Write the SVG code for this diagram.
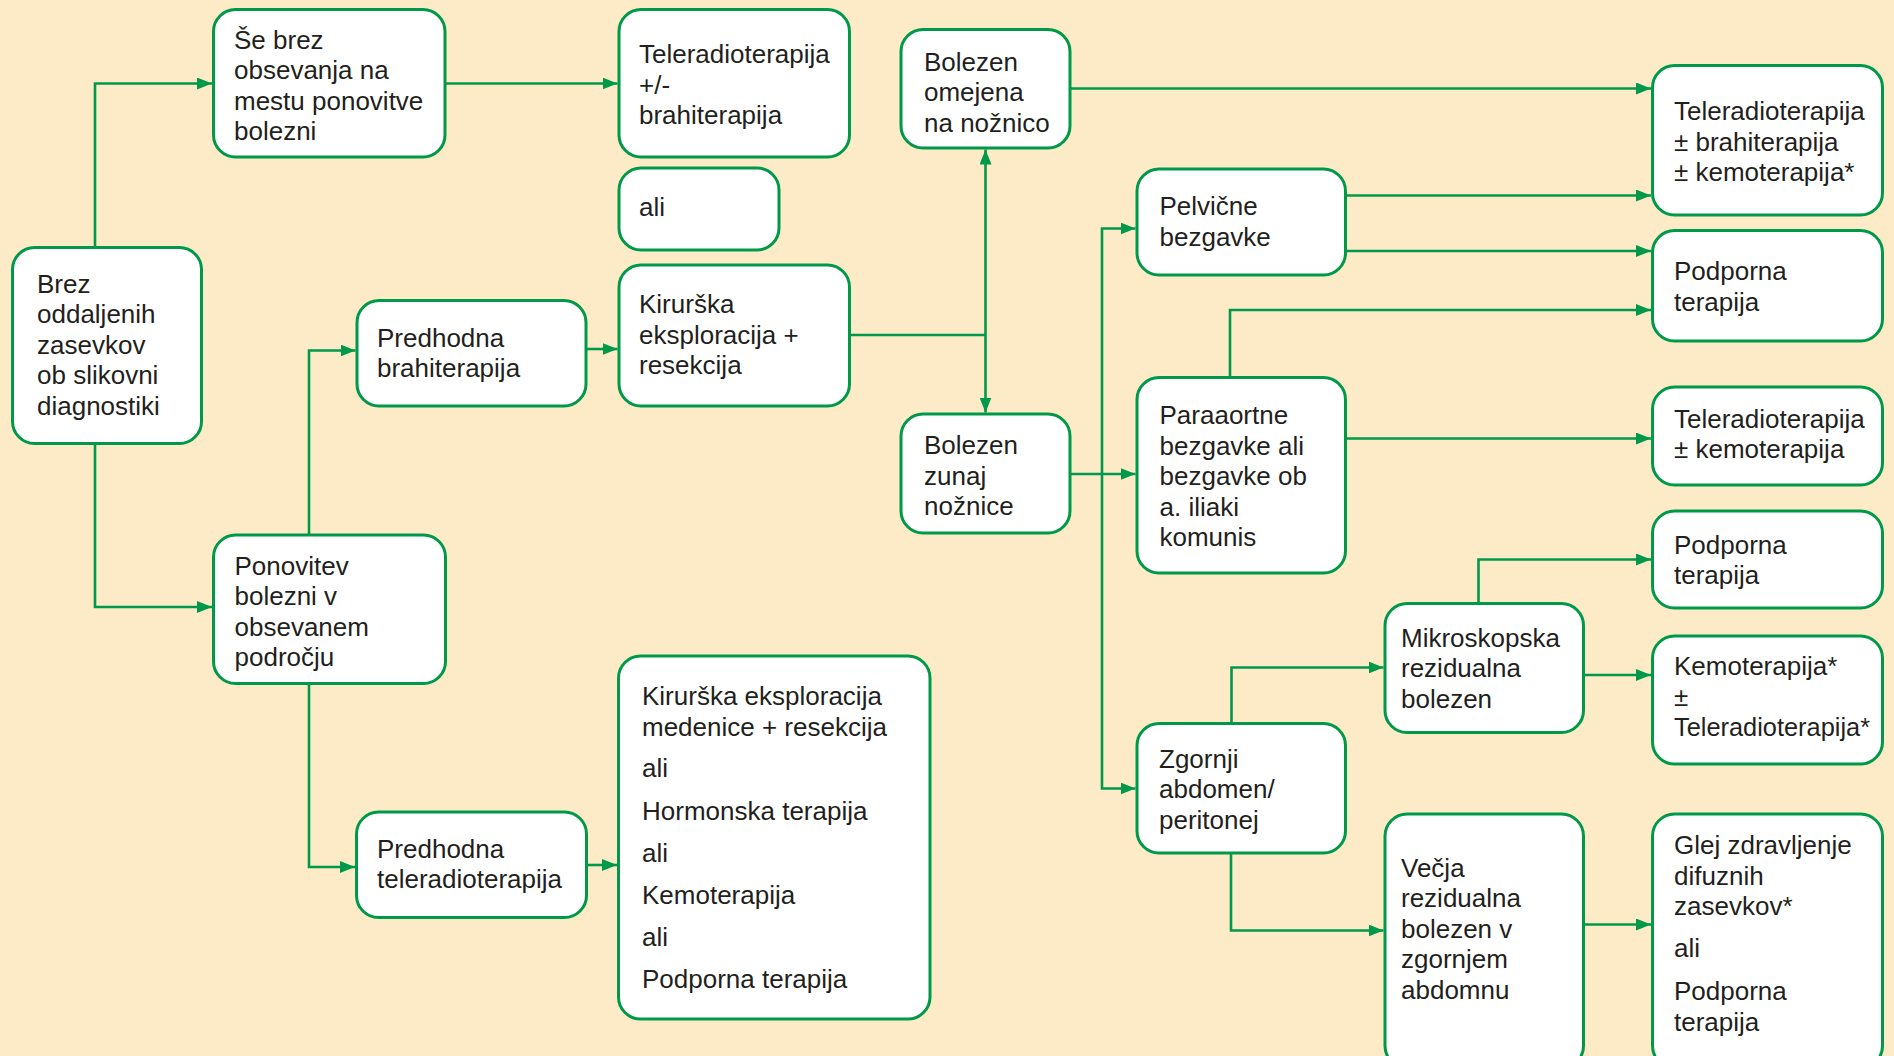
<svg xmlns="http://www.w3.org/2000/svg" width="1894" height="1056" viewBox="0 0 1894 1056">
  <defs>
    <marker id="arrow" markerUnits="userSpaceOnUse" markerWidth="16" markerHeight="13" refX="15" refY="6" orient="auto">
      <path d="M0,0 L15,6 L0,12 z" fill="#00994a"/>
    </marker>
    <style>
      .box { fill: #ffffff; stroke: #00994a; stroke-width: 3; }
      .link { fill: none; stroke: #00994a; stroke-width: 2.6; }
      .arr { marker-end: url(#arrow); }
      text { font-family: "Liberation Sans", Arial, sans-serif; font-size: 26px; fill: #231f20; }
    </style>
  </defs>

  <rect width="1894" height="1056" fill="#fdebc8"/>

  <!-- connectors -->
  <g id="connectors">
    <path class="link arr" d="M95,247.5 V83.5 H212"/>
    <path class="link arr" d="M445,83.5 H617.5"/>
    <path class="link arr" d="M95,443.5 V607 H212"/>
    <path class="link arr" d="M309,535 V350.5 H355.5"/>
    <path class="link arr" d="M586,349 H617.5"/>
    <path class="link" d="M849.5,335 H985.5"/>
    <path class="link arr" d="M985.5,335 V149.5"/>
    <path class="link arr" d="M985.5,335 V412.5"/>
    <path class="link arr" d="M1070,88.5 H1651"/>
    <path class="link arr" d="M1070,474 H1135.5"/>
    <path class="link arr" d="M1102,474 V228.5 H1135.5"/>
    <path class="link arr" d="M1102,474 V788.5 H1135.5"/>
    <path class="link arr" d="M1345.5,195.5 H1651"/>
    <path class="link arr" d="M1345.5,251 H1651"/>
    <path class="link arr" d="M1230,377.5 V310 H1651"/>
    <path class="link arr" d="M1345.5,438.5 H1651"/>
    <path class="link arr" d="M1478.5,603.5 V559.5 H1651"/>
    <path class="link arr" d="M1583.5,675 H1651"/>
    <path class="link arr" d="M1231.5,723.5 V667.5 H1383.5"/>
    <path class="link arr" d="M1231,853 V930.5 H1383.5"/>
    <path class="link arr" d="M1583.5,924.5 H1651"/>
    <path class="link arr" d="M309,683.5 V867 H355"/>
    <path class="link arr" d="M586.5,865 H617"/>
  </g>

  <!-- nodes -->
  <g id="n-brez">
    <rect class="box" x="12.5" y="247.5" width="189" height="196" rx="22"/>
    <text><tspan x="37" y="292.5">Brez</tspan><tspan x="37" y="323">oddaljenih</tspan><tspan x="37" y="353.5">zasevkov</tspan><tspan x="37" y="384">ob slikovni</tspan><tspan x="37" y="414.5">diagnostiki</tspan></text>
  </g>

  <g id="n-se-brez">
    <rect class="box" x="213.5" y="9.5" width="231.5" height="147.5" rx="22"/>
    <text><tspan x="234" y="48.7">Še brez</tspan><tspan x="234" y="79.2">obsevanja na</tspan><tspan x="234" y="109.7">mestu ponovitve</tspan><tspan x="234" y="140.2">bolezni</tspan></text>
  </g>

  <g id="n-tele-brahi">
    <rect class="box" x="619" y="9.5" width="230.5" height="147.5" rx="22"/>
    <text><tspan x="639" y="63.3">Teleradioterapija</tspan><tspan x="639" y="93.8">+/-</tspan><tspan x="639" y="124.3">brahiterapija</tspan></text>
  </g>

  <g id="n-ali">
    <rect class="box" x="619" y="168" width="160" height="82" rx="22"/>
    <text x="639" y="216">ali</text>
  </g>

  <g id="n-kirurska">
    <rect class="box" x="619" y="265" width="230.5" height="141" rx="22"/>
    <text><tspan x="639" y="313.3">Kirurška</tspan><tspan x="639" y="343.8">eksploracija +</tspan><tspan x="639" y="374.3">resekcija</tspan></text>
  </g>

  <g id="n-pred-brahi">
    <rect class="box" x="357" y="300.5" width="229" height="105.5" rx="22"/>
    <text><tspan x="377" y="346.7">Predhodna</tspan><tspan x="377" y="377.2">brahiterapija</tspan></text>
  </g>

  <g id="n-ponovitev">
    <rect class="box" x="213.5" y="535" width="232" height="148.5" rx="22"/>
    <text><tspan x="234.5" y="574.8">Ponovitev</tspan><tspan x="234.5" y="605.3">bolezni v</tspan><tspan x="234.5" y="635.8">obsevanem</tspan><tspan x="234.5" y="666.3">področju</tspan></text>
  </g>

  <g id="n-pred-tele">
    <rect class="box" x="356.5" y="812" width="230" height="105.5" rx="22"/>
    <text><tspan x="377" y="857.7">Predhodna</tspan><tspan x="377" y="888.2">teleradioterapija</tspan></text>
  </g>

  <g id="n-moznosti">
    <rect class="box" x="618.5" y="656" width="311.5" height="363" rx="22"/>
    <text><tspan x="642" y="705">Kirurška eksploracija</tspan><tspan x="642" y="735.5">medenice + resekcija</tspan><tspan x="642" y="777">ali</tspan><tspan x="642" y="819.5">Hormonska terapija</tspan><tspan x="642" y="861.5">ali</tspan><tspan x="642" y="903.5">Kemoterapija</tspan><tspan x="642" y="945.5">ali</tspan><tspan x="642" y="987.5">Podporna terapija</tspan></text>
  </g>

  <g id="n-omejena">
    <rect class="box" x="901" y="29.5" width="169" height="118.5" rx="22"/>
    <text><tspan x="924" y="70.7">Bolezen</tspan><tspan x="924" y="101.2">omejena</tspan><tspan x="924" y="131.7">na nožnico</tspan></text>
  </g>

  <g id="n-zunaj">
    <rect class="box" x="901" y="414" width="169" height="119" rx="22"/>
    <text><tspan x="924" y="454.3">Bolezen</tspan><tspan x="924" y="484.8">zunaj</tspan><tspan x="924" y="515.3">nožnice</tspan></text>
  </g>

  <g id="n-pelvicne">
    <rect class="box" x="1137" y="169" width="208.5" height="106" rx="22"/>
    <text><tspan x="1159.5" y="215.4">Pelvične</tspan><tspan x="1159.5" y="245.9">bezgavke</tspan></text>
  </g>

  <g id="n-paraaortne">
    <rect class="box" x="1137" y="377.5" width="208.5" height="195.5" rx="22"/>
    <text><tspan x="1159.5" y="424">Paraaortne</tspan><tspan x="1159.5" y="454.5">bezgavke ali</tspan><tspan x="1159.5" y="485">bezgavke ob</tspan><tspan x="1159.5" y="515.5">a. iliaki</tspan><tspan x="1159.5" y="546">komunis</tspan></text>
  </g>

  <g id="n-zgornji">
    <rect class="box" x="1137" y="723.5" width="208.5" height="129.5" rx="22"/>
    <text><tspan x="1159" y="767.7">Zgornji</tspan><tspan x="1159" y="798.2">abdomen/</tspan><tspan x="1159" y="828.7">peritonej</tspan></text>
  </g>

  <g id="n-mikro">
    <rect class="box" x="1385" y="603.5" width="198.5" height="129" rx="22"/>
    <text><tspan x="1401" y="646.7">Mikroskopska</tspan><tspan x="1401" y="677.2">rezidualna</tspan><tspan x="1401" y="707.7">bolezen</tspan></text>
  </g>

  <g id="n-vecja">
    <rect class="box" x="1385" y="814" width="198.5" height="254" rx="22"/>
    <text><tspan x="1401" y="876.7">Večja</tspan><tspan x="1401" y="907.2">rezidualna</tspan><tspan x="1401" y="937.7">bolezen v</tspan><tspan x="1401" y="968.2">zgornjem</tspan><tspan x="1401" y="998.7">abdomnu</tspan></text>
  </g>

  <g id="n-tele-brahi-kemo">
    <rect class="box" x="1652.5" y="65.5" width="230" height="149.5" rx="22"/>
    <text><tspan x="1674" y="120">Teleradioterapija</tspan><tspan x="1674" y="150.5">± brahiterapija</tspan><tspan x="1674" y="181">± kemoterapija*</tspan></text>
  </g>

  <g id="n-podporna-1">
    <rect class="box" x="1652.5" y="230.5" width="230" height="110.5" rx="22"/>
    <text><tspan x="1674" y="280.4">Podporna</tspan><tspan x="1674" y="310.9">terapija</tspan></text>
  </g>

  <g id="n-tele-kemo">
    <rect class="box" x="1652.5" y="387" width="230" height="98" rx="22"/>
    <text><tspan x="1674" y="427.9">Teleradioterapija</tspan><tspan x="1674" y="458.4">± kemoterapija</tspan></text>
  </g>

  <g id="n-podporna-2">
    <rect class="box" x="1652.5" y="511" width="230" height="97" rx="22"/>
    <text><tspan x="1674" y="553.6">Podporna</tspan><tspan x="1674" y="584.1">terapija</tspan></text>
  </g>

  <g id="n-kemo-tele">
    <rect class="box" x="1652.5" y="636" width="230" height="128" rx="22"/>
    <text><tspan x="1674" y="675">Kemoterapija*</tspan><tspan x="1674" y="705.5">±</tspan><tspan x="1674" y="736" textLength="196" lengthAdjust="spacingAndGlyphs">Teleradioterapija*</tspan></text>
  </g>

  <g id="n-glej">
    <rect class="box" x="1652.5" y="814" width="230" height="254" rx="22"/>
    <text><tspan x="1674" y="854.3">Glej zdravljenje</tspan><tspan x="1674" y="884.8">difuznih</tspan><tspan x="1674" y="915.3">zasevkov*</tspan><tspan x="1674" y="957.3">ali</tspan><tspan x="1674" y="1000">Podporna</tspan><tspan x="1674" y="1030.5">terapija</tspan></text>
  </g>
</svg>
